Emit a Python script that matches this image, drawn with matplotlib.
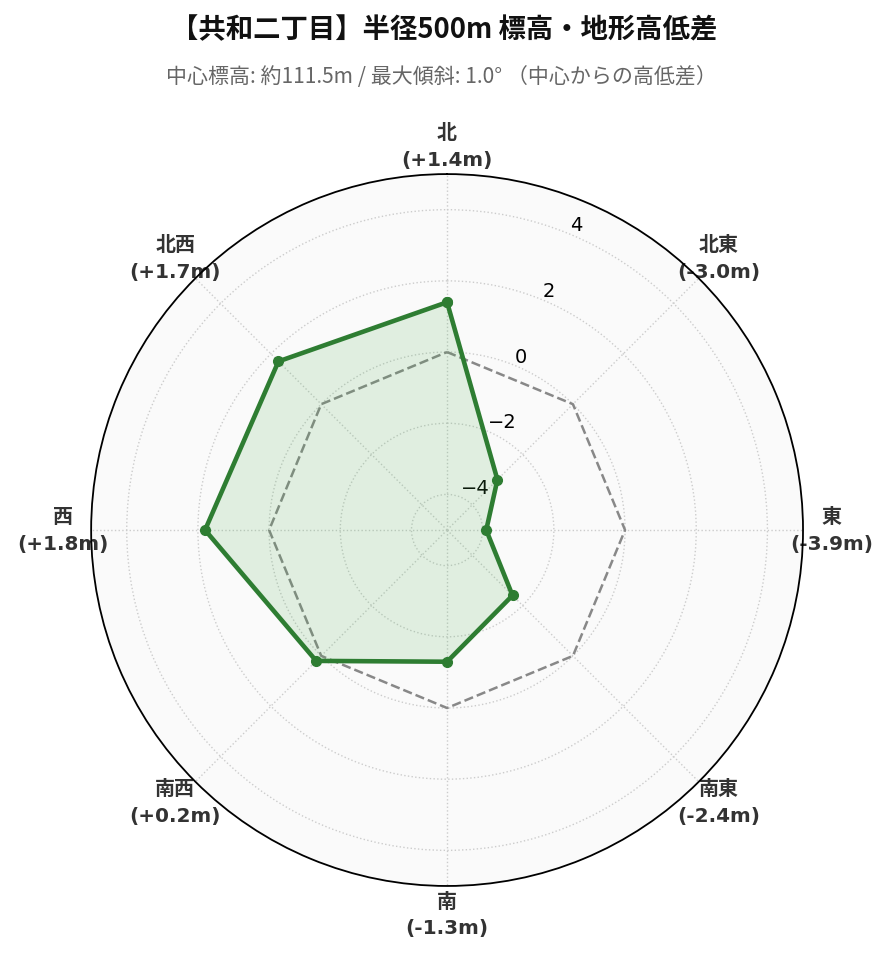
import numpy as np
import matplotlib.pyplot as plt

# データ
houi = ['北', '北東', '東', '南東', '南', '南西', '西', '北西']
koutei_sa = [1.4, -3.0, -3.9, -2.4, -1.3, 0.2, 1.8, 1.7]
r_ticks = [-4, -2, 0, 2, 4]

title = '【共和二丁目】半径500m 標高・地形高低差'
subtitle = '中心標高: 約111.5m / 最大傾斜: 1.0° （中心からの高低差）'

# 角度（北が上、時計回り）
kakudo = np.deg2rad(np.arange(len(houi)) * 45)
kakudo_c = np.append(kakudo, kakudo[0])
vals_c = np.append(koutei_sa, koutei_sa[0])
zero_c = np.zeros(len(kakudo_c))

fig = plt.figure(figsize=(8.89, 9.62), dpi=100)
ax = fig.add_axes([0.1024, 0.078, 0.801, 0.740], projection='polar')
ax.set_theta_offset(np.pi / 2)
ax.set_theta_direction(-1)
ax.set_facecolor('#fafafa')

# 基準線（0m）
ax.plot(kakudo_c, zero_c, color='#888888', linestyle='--', linewidth=1.8, zorder=2)

# 高低差
ax.fill(kakudo_c, vals_c, color='#4caf50', alpha=0.15, zorder=3)
ax.plot(kakudo_c, vals_c, color='#2e7d32', linewidth=3.3, marker='o',
        markersize=7, zorder=4)

ax.set_ylim(-5, 5)
ax.set_yticks(r_ticks)
ax.set_yticklabels([str(t).replace('-', '\u2212') for t in r_ticks], fontsize=14)
ax.set_rlabel_position(22.5)

labels = [f'{h}\n({v:+.1f}m)' for h, v in zip(houi, koutei_sa)]
ax.set_xticks(kakudo)
ax.set_xticklabels(labels, fontsize=14.4, fontweight='bold', color='#333333',
                   family=['DejaVu Sans', 'Noto Sans CJK JP'], linespacing=1.52)
ax.tick_params(axis='x', pad=10)
for lab in ax.get_xticklabels():
    lab.set_zorder(10)

ax.grid(True, color='#cccccc', linestyle=':', linewidth=1.0)
ax.spines['polar'].set_color('black')
ax.spines['polar'].set_linewidth(1.3)

fig.text(0.5, 0.969, title, ha='center', va='center', fontsize=19.7,
         fontweight='bold', color='#111111', family=['Noto Sans CJK JP', 'DejaVu Sans'])
fig.text(0.496, 0.920, subtitle, ha='center', va='center', fontsize=15.1,
         color='#666666', family=['Noto Sans CJK JP', 'DejaVu Sans'])

fig.savefig('out.png', dpi=100)
